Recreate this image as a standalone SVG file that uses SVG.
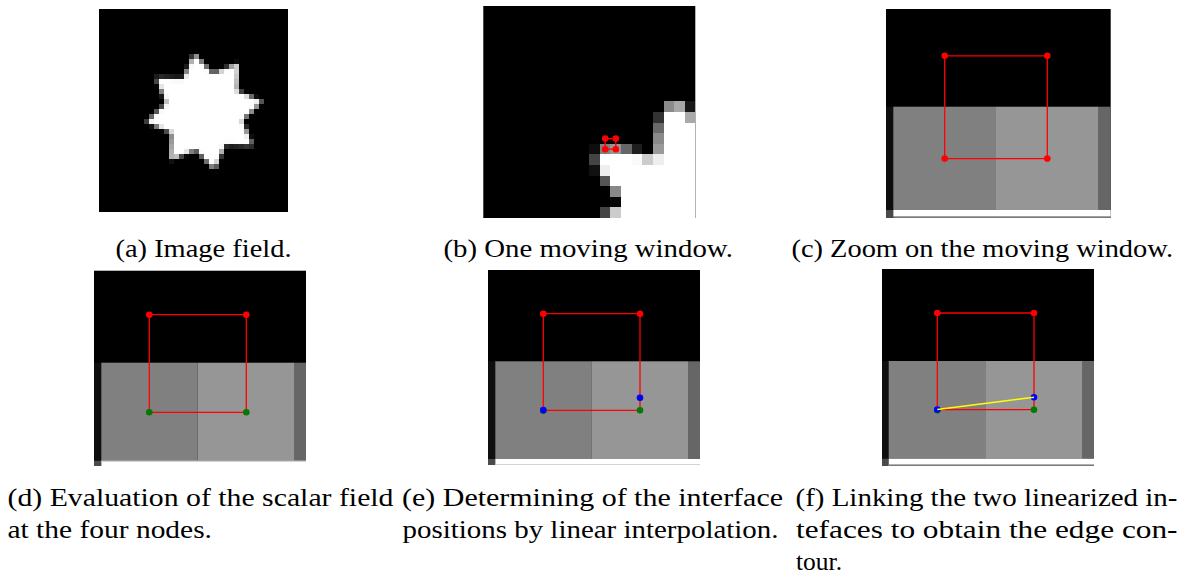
<svg xmlns="http://www.w3.org/2000/svg" width="1188" height="576" viewBox="0 0 1188 576">
<defs>
<style>
.cap{font-family:"Liberation Serif","Times New Roman",serif;font-size:26px;fill:#000}
.e{stroke:#ff0000;stroke-width:1.3;fill:none}
.r{fill:#ff0000}
.g{fill:#007a00}
.b{fill:#0000ff}
.y{stroke:#ffff00;stroke-width:1.5}
.k{fill:#000}
.s0{fill:#0e0e0e}
.sA{fill:#808080}
.sB{fill:#969696}
.sR{fill:#666666}
.sL{fill:#4a4a4a}
</style>
<filter id="pix" filterUnits="userSpaceOnUse" x="99" y="9" width="189" height="203" color-interpolation-filters="sRGB">
<feGaussianBlur in="SourceGraphic" stdDeviation="1.5" result="bl"/>
<feFlood x="101" y="11" width="1" height="1" flood-color="#ffffff" flood-opacity="1" result="f"/>
<feComposite in="f" in2="f" operator="over" x="99" y="9" width="5" height="5" result="t"/>
<feTile in="t" result="a"/>
<feComposite in="bl" in2="a" operator="in" result="smp"/>
<feMorphology in="smp" operator="dilate" radius="2"/>
</filter>
</defs>
<rect width="1188" height="576" fill="#ffffff"/>

<g id="panel-a">
<rect class="k" x="99" y="9" width="189" height="203"/>
<g filter="url(#pix)">
<polygon fill="#ffffff" points="194.05,53.60 212.74,73.62 238.14,63.37 237.19,90.75 262.40,101.45 242.38,120.14 252.63,145.54 225.25,144.59 214.55,169.80 195.86,149.78 170.46,160.03 171.41,132.65 146.20,121.95 166.22,103.26 155.97,77.86 183.35,78.81"/>
</g>
</g>

<g id="panel-b">
<rect class="k" x="483.3" y="6" width="212" height="212"/>
<g transform="translate(483.3,6) scale(10.6)" shape-rendering="crispEdges">
<g fill="#ffffff">
<rect x="17" y="10" width="2" height="1"/>
<rect x="17" y="11" width="3" height="3"/>
<rect x="11" y="14" width="9" height="1"/>
<rect x="12" y="15" width="8" height="2"/>
<rect x="13" y="17" width="7" height="3"/>
</g>
<rect x="17" y="9" width="1" height="1" fill="#8a8a8a"/>
<rect x="18" y="9" width="1" height="1" fill="#a8a8a8"/>
<rect x="19" y="9" width="1" height="1" fill="#181818"/>
<rect x="16" y="10" width="1" height="1" fill="#333333"/>
<rect x="19" y="10" width="1" height="1" fill="#aaaaaa"/>
<rect x="16" y="11" width="1" height="1" fill="#6a6a6a"/>
<rect x="16" y="12" width="1" height="1" fill="#8a8a8a"/>
<rect x="10" y="13" width="1" height="1" fill="#0e0e0e"/>
<rect x="11" y="13" width="1" height="1" fill="#808080"/>
<rect x="12" y="13" width="1" height="1" fill="#969696"/>
<rect x="13" y="13" width="1" height="1" fill="#666666"/>
<rect x="14" y="13" width="1" height="1" fill="#1e1e1e"/>
<rect x="16" y="13" width="1" height="1" fill="#9a9a9a"/>
<rect x="10" y="14" width="1" height="1" fill="#444444"/>
<rect x="14" y="14" width="1" height="1" fill="#fafafa"/>
<rect x="15" y="14" width="1" height="1" fill="#cccccc"/>
<rect x="16" y="14" width="1" height="1" fill="#eeeeee"/>
<rect x="10" y="15" width="1" height="1" fill="#111111"/>
<rect x="11" y="15" width="1" height="1" fill="#eeeeee"/>
<rect x="11" y="16" width="1" height="1" fill="#555555"/>
<rect x="12" y="17" width="1" height="1" fill="#888888"/>
<rect x="12" y="18" width="1" height="1" fill="#080808"/>
<rect x="11" y="19" width="1" height="1" fill="#444444"/>
<rect x="12" y="19" width="1" height="1" fill="#cccccc"/>
</g>
<polygon class="e" points="605.2,138.6 615.8,138.6 615.8,149.2 605.2,149.2"/>
<circle class="r" cx="605.2" cy="138.6" r="3.3"/>
<circle class="r" cx="615.8" cy="138.6" r="3.3"/>
<circle class="r" cx="605.2" cy="149.2" r="3.3"/>
<circle class="r" cx="615.8" cy="149.2" r="3.3"/>
</g>

<g id="panel-c">
<rect class="k" x="886" y="9" width="224.7" height="209"/>
<rect class="s0" x="886" y="106.7" width="7.3" height="103.3"/>
<rect class="sA" x="893.3" y="106.7" width="102.7" height="103.3"/>
<rect class="sB" x="996" y="106.7" width="102.7" height="103.3"/>
<rect class="sR" x="1098.7" y="106.7" width="12" height="103.3"/>
<rect class="sL" x="886" y="210" width="7.3" height="8"/>
<rect x="893.3" y="210" width="217.4" height="6.7" fill="#ffffff"/>
<rect x="893.3" y="216.7" width="217.4" height="1.3" fill="#7a7a7a"/>
<polygon class="e" points="944.7,55.8 1047.3,55.8 1047.3,158.6 944.7,158.6"/>
<circle class="r" cx="944.7" cy="55.8" r="3.3"/>
<circle class="r" cx="1047.3" cy="55.8" r="3.3"/>
<circle class="r" cx="944.7" cy="158.6" r="3.3"/>
<circle class="r" cx="1047.3" cy="158.6" r="3.3"/>
</g>

<g id="panel-d">
<rect class="k" x="94" y="270.7" width="212" height="195.3"/>
<rect class="s0" x="94" y="362.7" width="7.3" height="98"/>
<rect class="sA" x="101.3" y="362.7" width="96.4" height="98"/>
<rect class="sB" x="197.7" y="362.7" width="97" height="98"/>
<rect class="sR" x="294.7" y="362.7" width="11.3" height="98"/>
<rect class="sL" x="94" y="460.7" width="7.3" height="5.3"/>
<rect x="101.3" y="460.7" width="204.7" height="5.3" fill="#ffffff"/>
<rect x="101.3" y="460.7" width="204.7" height="1" fill="#c0c0c0"/>
<polygon class="e" points="149.3,314.7 246.3,314.7 246.3,412.3 149.3,412.3"/>
<circle class="r" cx="149.3" cy="314.7" r="3.3"/>
<circle class="r" cx="246.3" cy="314.7" r="3.3"/>
<circle class="g" cx="149.3" cy="412.3" r="3.3"/>
<circle class="g" cx="246.3" cy="412.3" r="3.3"/>
</g>

<g id="panel-e">
<rect class="k" x="488" y="270" width="212" height="194.7"/>
<rect class="s0" x="488" y="361.3" width="7.3" height="97.7"/>
<rect class="sA" x="495.3" y="361.3" width="96" height="97.7"/>
<rect class="sB" x="591.3" y="361.3" width="96.7" height="97.7"/>
<rect class="sR" x="688" y="361.3" width="12" height="97.7"/>
<rect class="sL" x="488" y="459" width="7.3" height="5.7"/>
<rect x="495.3" y="459" width="204.7" height="5.7" fill="#ffffff"/>
<rect x="495.3" y="464" width="204.7" height="0.8" fill="#d8d8d8"/>
<polygon class="e" points="543.3,313.7 640,313.7 640,410.3 543.3,410.3"/>
<circle class="r" cx="543.3" cy="313.7" r="3.3"/>
<circle class="r" cx="640" cy="313.7" r="3.3"/>
<circle class="g" cx="543.3" cy="410.8" r="3.3"/>
<circle class="b" cx="543.3" cy="410.1" r="3.3"/>
<circle class="g" cx="640" cy="410.3" r="3.3"/>
<circle class="b" cx="640" cy="397.7" r="3.3"/>
</g>

<g id="panel-f">
<rect class="k" x="882" y="269" width="212" height="195.7"/>
<rect class="s0" x="882" y="361" width="6.7" height="97.7"/>
<rect class="sA" x="888.7" y="361" width="97.3" height="97.7"/>
<rect class="sB" x="986" y="361" width="96.7" height="97.7"/>
<rect class="sR" x="1082.7" y="361" width="11.3" height="97.7"/>
<rect class="sL" x="882" y="458.7" width="6.7" height="7.3"/>
<rect x="888.7" y="458.7" width="205.3" height="6" fill="#ffffff"/>
<rect x="888.7" y="464.7" width="205.3" height="1.3" fill="#7a7a7a"/>
<polygon class="e" points="937.3,313 1034,313 1034,409.7 937.3,409.7"/>
<circle class="r" cx="937.3" cy="313" r="3.3"/>
<circle class="r" cx="1034" cy="313" r="3.3"/>
<circle class="g" cx="937.3" cy="410.2" r="3.3"/>
<circle class="b" cx="937.3" cy="409.5" r="3.3"/>
<circle class="g" cx="1034" cy="409.7" r="3.3"/>
<circle class="b" cx="1034" cy="397.3" r="3.3"/>
<line class="y" x1="937.3" y1="409.5" x2="1034" y2="397.3"/>
</g>

<g id="captions">
<text class="cap" x="115.5" y="256.5" textLength="176" lengthAdjust="spacingAndGlyphs">(a) Image field.</text>
<text class="cap" x="443.5" y="256.5" textLength="289.5" lengthAdjust="spacingAndGlyphs">(b) One moving window.</text>
<text class="cap" x="791.5" y="256.5" textLength="381.5" lengthAdjust="spacingAndGlyphs">(c) Zoom on the moving window.</text>
<text class="cap" x="7.5" y="505.5" textLength="386" lengthAdjust="spacingAndGlyphs">(d) Evaluation of the scalar field</text>
<text class="cap" x="7.5" y="537.5" textLength="204.5" lengthAdjust="spacingAndGlyphs">at the four nodes.</text>
<text class="cap" x="402" y="505.5" textLength="381" lengthAdjust="spacingAndGlyphs">(e) Determining of the interface</text>
<text class="cap" x="402.5" y="537.5" textLength="376" lengthAdjust="spacingAndGlyphs">positions by linear interpolation.</text>
<text class="cap" x="795.5" y="505.5" textLength="382" lengthAdjust="spacingAndGlyphs">(f) Linking the two linearized in-</text>
<text class="cap" x="796" y="537.5" textLength="381.5" lengthAdjust="spacingAndGlyphs">tefaces to obtain the edge con-</text>
<text class="cap" x="796" y="569.5" textLength="46" lengthAdjust="spacingAndGlyphs">tour.</text>
</g>
</svg>
